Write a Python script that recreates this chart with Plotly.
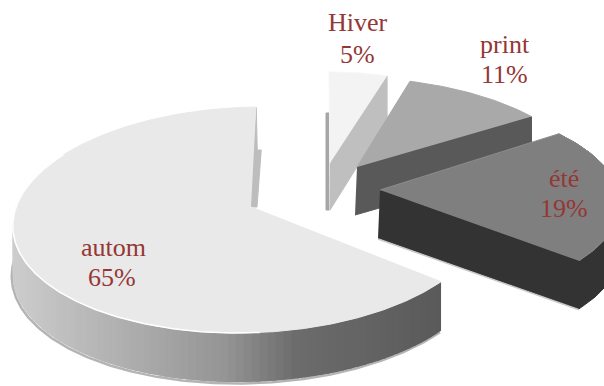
import numpy as np
import plotly.graph_objects as go

categories = ["Hiver", "print", "été", "autom"]
percents = [5, 11, 19, 65]

LABEL_COLOR = "#953735"
FONT = "Liberation Serif, Times New Roman, serif"
W, H = 604, 386

# view model of each exploded slice (screen position of apex, radii, perspective, slant)
view = {
    "Hiver": dict(cx=330, cy=163, A=208, B=101.5, k=0.115, s=-1, h=47, face="#f3f3f3"),
    "print": dict(cx=357, cy=167, A=227, B=100, k=0.115, s=-12, h=48, face="#a9a9a9"),
    "été": dict(cx=380, cy=190, A=238, B=102, k=0.115, s=-3, h=48, face="#7f7f7f"),
    "autom": dict(cx=251, cy=207, A=235, B=111.5, k=0.115, s=12, h=49, face="#e9e9e9"),
}
angle_adjust = {"Hiver": (0, 0), "print": (0, 0), "été": (-3.6, 4), "autom": (2.5, -1.5)}

fig = go.Figure()


def project(v, deg):
    t = np.radians(deg)
    u, w = np.sin(t), np.cos(t)
    den = 1 + v["k"] * w
    return v["cx"] + (v["A"] * u + v["s"] * w) / den, v["cy"] - v["B"] * w / den


def poly(xs, ys, fill, line=None, lw=1):
    fig.add_trace(go.Scatter(
        x=list(xs), y=list(ys), mode="lines", fill="toself", fillcolor=fill,
        line=dict(color=line or fill, width=lw), hoverinfo="skip", showlegend=False))


def path(xs, ys, color, lw):
    fig.add_trace(go.Scatter(
        x=list(xs), y=list(ys), mode="lines", line=dict(color=color, width=lw),
        hoverinfo="skip", showlegend=False))


def shade(c):
    return f"rgb({c:.0f},{c:.0f},{c:.0f})"


edges = np.concatenate([[0], np.cumsum(percents)]) * 3.6
slices = {}
for i, name in enumerate(categories):
    a0, a1 = angle_adjust[name]
    slices[name] = (edges[i] + a0, edges[i + 1] + a1)

# ---- Hiver
v = view["Hiver"]
a, b = slices["Hiver"]
th = np.linspace(a, b, 30)
x, y = project(v, th)
lx, ly = x[0], y[0]
poly([v["cx"] - 0.5, v["cx"] - 4, v["cx"] - 4, lx], [v["cy"] + v["h"], v["cy"] + v["h"], ly + 41, ly + 41], "#a6a6a6")
poly([v["cx"], x[-1], x[-1], v["cx"]], [v["cy"], y[-1], y[-1] + 43, v["cy"] + v["h"]], "#bfbfbf")
poly([v["cx"], *x], [v["cy"], *y], v["face"], "#f6f6f6")

# ---- print
v = view["print"]
a, b = slices["print"]
th = np.linspace(a, b, 40)
x, y = project(v, th)
poly([v["cx"], x[-1], x[-1], v["cx"] - 2], [v["cy"], y[-1], y[-1] + v["h"], v["cy"] + v["h"]], "#595959")
poly([v["cx"], *x], [v["cy"], *y], v["face"])

# ---- été
v = view["été"]
a, b = slices["été"]
th = np.linspace(a, b, 70)
x, y = project(v, th)
poly([*x, *x[::-1]], [*y, *(y[::-1] + v["h"])], "#333333")
poly([v["cx"], x[-1], x[-1], v["cx"] - 2], [v["cy"], y[-1], y[-1] + v["h"], v["cy"] + v["h"]], "#333333")
path([v["cx"] - 2, x[-1]], [v["cy"] + v["h"] + 1, y[-1] + v["h"] + 1], "#c8c8c8", 1.5)
poly([v["cx"], *x], [v["cy"], *y], v["face"], "#8c8c8c")

# ---- autom
v = view["autom"]
a, b = slices["autom"]
th = np.linspace(a, b, 400)
x, y = project(v, th)
# inner cut face visible behind the top corner
poly([x[-1], x[-1] + 1, x[-1] + 5, v["cx"] + 6, v["cx"] - 3],
     [y[-1], y[-1] + 43, y[-1] + 43, v["cy"], v["cy"]], "#bdbdbd")
# outer wall with a horizontal gradient, painted right to left with overlapping strips
mask = th < 300
wx, wy = x[mask], y[mask]
path(wx - 1, wy + v["h"] + 1.5, "#b4b4b4", 2.5)
step = 3
for j in range(0, len(wx) - 1, step):
    k = min(j + step + 4, len(wx) - 1)
    c = shade(np.interp(wx[j], [12, 230, 300, 442], [205, 148, 108, 90]))
    sx, sy = wx[j:k + 1], wy[j:k + 1]
    fig.add_trace(go.Scatter(
        x=[*sx, *sx[::-1]], y=[*sy, *(sy[::-1] + v["h"])], mode="lines", fill="toself", fillcolor=c,
        line=dict(width=0, color=c), hoverinfo="skip", showlegend=False))
poly([v["cx"], *x], [v["cy"], *y], v["face"])
path(wx[(wx < 260)], wy[(wx < 260)], "#ffffff", 1.5)

# ---- labels
label_pos = {
    "Hiver": ((358, 22), (357, 54)),
    "print": ((505, 44), (504, 74)),
    "été": ((564, 178), (564, 208)),
    "autom": ((113, 247), (112, 277)),
}
for name, pct in zip(categories, percents):
    for (px, py), txt in zip(label_pos[name], (name, f"{pct}%")):
        fig.add_annotation(x=px, y=py, text=txt, showarrow=False, xanchor="center", yanchor="middle",
                           font=dict(family=FONT, size=26, color=LABEL_COLOR))

fig.update_layout(
    width=W, height=H, margin=dict(l=0, r=0, t=0, b=0),
    paper_bgcolor="white", plot_bgcolor="white", showlegend=False,
    xaxis=dict(range=[0, W], visible=False, fixedrange=True),
    yaxis=dict(range=[H, 0], visible=False, fixedrange=True),
)
fig.write_html("out.html", config={"displayModeBar": False},
               post_script="document.body.style.margin='0';document.body.style.overflow='hidden';")
